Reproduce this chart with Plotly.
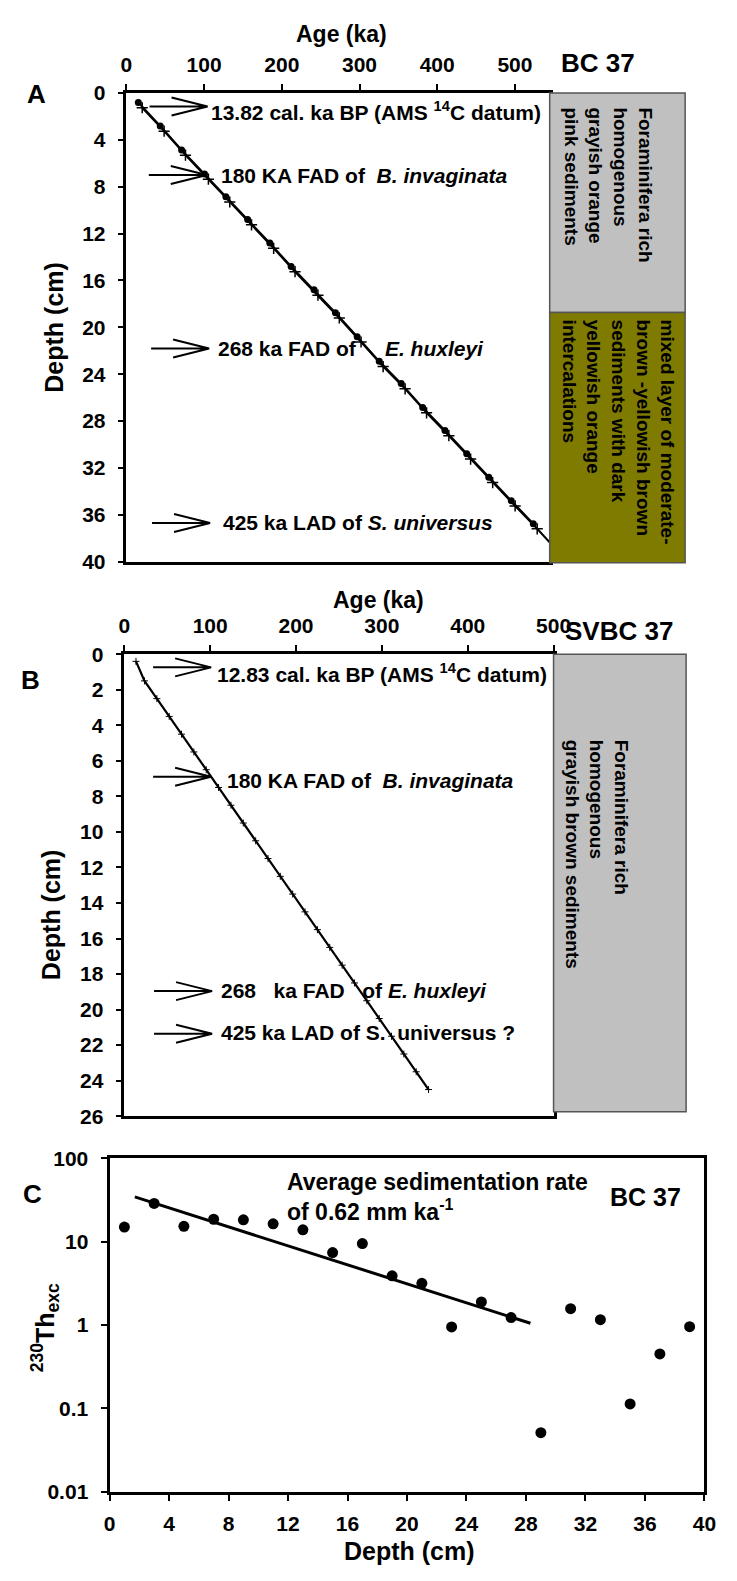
import plotly.graph_objects as go

W, H = 737, 1581
FONT = "Liberation Sans, Arial, sans-serif"


def px(x):
    return x / W


def py(y):
    return 1 - y / H


# ---------------- Panel A (BC 37) ----------------
a_circle_depth = [0.8, 2.8, 4.85, 6.9, 8.86, 10.8, 12.8, 14.8, 16.8, 18.75,
                  20.8, 22.9, 24.8, 26.85, 28.8, 30.8, 32.8, 34.8, 36.76]
a_circle_age = [15.3, 43.5, 71, 100.5, 128, 156, 184.5, 212, 241.5, 269,
                297, 325.4, 353.7, 381.3, 410, 438, 466.4, 495.3, 523.7]
a_cross_depth = [1.25, 3.25, 5.3, 7.35, 9.3, 11.25, 13.25, 15.25, 17.25, 19.2,
                 21.25, 23.35, 25.25, 27.3, 29.25, 31.25, 33.25, 35.25, 37.2, 39.25]
a_cross_age = [20.3, 48.5, 76, 105.5, 133, 161, 189.5, 217, 246.5, 274,
               302, 330.4, 358.7, 386.3, 415, 443, 471.4, 500.3, 528.7, 557]

a_arrow_age = [104.4, 103.4, 106.4, 107.6]
a_arrow_depth = [1.15, 7.0, 21.8, 36.7]
a_text_age = [106.5, 118.9, 115.2, 121.4]
a_text_depth = [1.5, 7.05, 21.8, 36.65]
a_texts = ["13.82 cal. ka BP (AMS <sup>14</sup>C datum)",
           "180 KA FAD of \u00a0<i>B. invaginata</i>",
           "268 ka FAD of \u00a0\u00a0\u00a0\u00a0<i>E. huxleyi</i>",
           "425 ka LAD of <i>S. universus</i>"]

# ---------------- Panel B (SVBC 37) ----------------
b_depth = [0.4, 1.5, 2.5, 3.5, 4.5, 5.5, 6.5, 7.5, 8.5, 9.5, 10.5, 11.5, 12.5,
           13.5, 14.5, 15.5, 16.5, 17.5, 18.5, 19.5, 20.5, 21.5, 22.5, 23.5, 24.5]
b_age = [13.6, 23.5, 37.9, 52.3, 66.6, 81.0, 95.4, 109.8, 124.2, 138.6, 153.0,
         167.4, 181.7, 196.1, 210.5, 224.9, 239.3, 253.7, 268.1, 282.5, 296.9,
         311.2, 325.6, 340.0, 354.4]

b_arrow_age = [101.1, 101.1, 102.2, 102.2]
b_arrow_depth = [0.74, 6.9, 18.96, 21.36]
b_text_age = [105.6, 116.9, 110.1, 110.1]
b_text_depth = [1.07, 7.12, 18.93, 21.31]
b_texts = ["12.83 cal. ka BP (AMS <sup>14</sup>C datum)",
           "180 KA FAD of \u00a0<i>B. invaginata</i>",
           "268 \u00a0\u00a0ka FAD \u00a0\u00a0of <i>E. huxleyi</i>",
           "425 ka LAD of S. \u00a0universus ?"]

# ---------------- Panel C (230Th excess) ----------------
c_depth = [1, 3, 5, 7, 9, 11, 13, 15, 17, 19, 21, 23, 25, 27, 29, 31, 33, 35, 37, 39]
c_th = [15.0, 28.8, 15.3, 18.6, 18.3, 16.4, 13.9, 7.4, 9.5, 3.9, 3.17, 0.95,
        1.89, 1.23, 0.051, 1.57, 1.16, 0.113, 0.45, 0.955]
c_trend_depth = [1.7, 28.3]
c_trend_th = [34.5, 1.05]

fig = go.Figure()

# Panel A traces
fig.add_trace(go.Scatter(x=a_cross_age, y=a_cross_depth, mode="lines+markers",
                         line=dict(color="black", width=2),
                         marker=dict(symbol="cross-thin", size=8, line=dict(color="black", width=1.5)),
                         xaxis="x", yaxis="y", showlegend=False))
fig.add_trace(go.Scatter(x=a_circle_age, y=a_circle_depth, mode="lines+markers",
                         line=dict(color="black", width=2),
                         marker=dict(symbol="circle", size=7, color="black"),
                         xaxis="x", yaxis="y", showlegend=False))
# Panel B trace
fig.add_trace(go.Scatter(x=b_age, y=b_depth, mode="lines+markers",
                         line=dict(color="black", width=2.2),
                         marker=dict(symbol="cross-thin", size=5, line=dict(color="black", width=1)),
                         xaxis="x2", yaxis="y2", showlegend=False))
# Panel C traces
fig.add_trace(go.Scatter(x=c_trend_depth, y=c_trend_th, mode="lines",
                         line=dict(color="black", width=3),
                         xaxis="x3", yaxis="y3", showlegend=False))
fig.add_trace(go.Scatter(x=c_depth, y=c_th, mode="markers",
                         marker=dict(symbol="circle", size=11, color="black"),
                         xaxis="x3", yaxis="y3", showlegend=False))

tickfont = dict(family=FONT, size=21, color="black", weight="bold")
common = dict(showgrid=False, zeroline=False, showline=True, linecolor="black",
              mirror=True, ticks="outside", ticklen=6, tickwidth=2, tickcolor="black",
              tickfont=tickfont)

fig.update_layout(
    width=W, height=H, margin=dict(l=0, r=0, t=0, b=0, pad=0),
    paper_bgcolor="white", plot_bgcolor="white",
    font=dict(family=FONT, color="black"),
    xaxis=dict(domain=[px(124.5), px(562)], range=[0, 544.8], side="top", anchor="y",
               tickvals=[0, 100, 200, 300, 400, 500], linewidth=2.5, ticklabelstandoff=4, **common),
    yaxis=dict(domain=[py(557.7), py(82.3)], range=[40, 0], anchor="x",
               tickvals=list(range(0, 41, 4)), linewidth=2.5, ticklabelstandoff=8, **common),
    xaxis2=dict(domain=[px(122.3), px(566)], range=[0, 500], side="top", anchor="y2",
                tickvals=[0, 100, 200, 300, 400, 500], linewidth=2.5, ticklabelstandoff=4, **common),
    yaxis2=dict(domain=[py(1120.5), py(651.7)], range=[26, 0], anchor="x2",
                tickvals=list(range(0, 27, 2)), linewidth=2.5, ticklabelstandoff=8, **common),
    xaxis3=dict(domain=[px(107), px(722)], range=[0, 40], side="bottom", anchor="y3",
                tickvals=list(range(0, 41, 4)), linewidth=3, ticklabelstandoff=5, **common),
    yaxis3=dict(domain=[py(1501.5), py(1163.3)], type="log", range=[-2, 2], anchor="x3",
                tickvals=[0.01, 0.1, 1, 10, 100], ticktext=["0.01", "0.1", "1", "10", "100"],
                linewidth=3, ticklabelstandoff=8, **common),
)

shapes = []
annotations = []

# Lithology boxes
shapes.append(dict(type="rect", xref="paper", yref="paper", x0=px(562), x1=px(702),
                   y0=py(305), y1=py(82.3), fillcolor="#c0c0c0",
                   line=dict(color="#555555", width=1.5), layer="above"))
shapes.append(dict(type="rect", xref="paper", yref="paper", x0=px(562), x1=px(702),
                   y0=py(559), y1=py(305), fillcolor="#7f7a00",
                   line=dict(color="#555555", width=1.5), layer="above"))
shapes.append(dict(type="rect", xref="paper", yref="paper", x0=px(566), x1=px(703),
                   y0=py(1116), y1=py(651.7), fillcolor="#c0c0c0",
                   line=dict(color="#555555", width=1.5), layer="above"))

boxfont = dict(family=FONT, size=19, color="black", weight="bold")
annotations.append(dict(xref="paper", yref="paper", x=px(623), y=py(95), xanchor="center",
                        yanchor="top", textangle=90, align="left", showarrow=False, font=boxfont,
                        text="Foraminifera rich<br>homogenous<br>grayish orange<br>pink sediments"))
annotations.append(dict(xref="paper", yref="paper", x=px(633), y=py(310), xanchor="center",
                        yanchor="top", textangle=90, align="left", showarrow=False, font=boxfont,
                        text="mixed layer of moderate-<br>brown -yellowish brown<br>sediments with dark<br>yellowish orange<br>intercalations"))
annotations.append(dict(xref="paper", yref="paper", x=px(611), y=py(736), xanchor="center",
                        yanchor="top", textangle=90, align="left", showarrow=False, font=boxfont,
                        text="Foraminifera rich<br>homogenous<br>grayish brown sediments"))

# Arrows (open chevron heads)
arrow_path = "M -58,0 L 0,0 M -36,9 L 0,0 L -36,-9"
for xa, ya, ages, depths in [("x", "y", a_arrow_age, a_arrow_depth),
                             ("x2", "y2", b_arrow_age, b_arrow_depth)]:
    for ag, dp in zip(ages, depths):
        shapes.append(dict(type="path", xref=xa, yref=ya, xsizemode="pixel", ysizemode="pixel",
                           xanchor=ag, yanchor=dp, path=arrow_path,
                           line=dict(color="black", width=2), layer="above"))

annfont = dict(family=FONT, size=21, color="black", weight="bold")
for xa, ya, ages, depths, texts in [("x", "y", a_text_age, a_text_depth, a_texts),
                                    ("x2", "y2", b_text_age, b_text_depth, b_texts)]:
    for ag, dp, t in zip(ages, depths, texts):
        annotations.append(dict(xref=xa, yref=ya, x=ag, y=dp, xanchor="left", yanchor="middle",
                                text=t, showarrow=False, font=annfont))

agefont = dict(family=FONT, size=23, color="black", weight="bold")
depthfont = dict(family=FONT, size=25, color="black", weight="bold")
labfont = dict(family=FONT, size=26, color="black", weight="bold")
bcfont = dict(family=FONT, size=26, color="black", weight="bold")
cfont = dict(family=FONT, size=23, color="black", weight="bold")


def pann(x, y, text, font, xanchor="center", yanchor="middle", angle=0):
    annotations.append(dict(xref="paper", yref="paper", x=px(x), y=py(y), text=text,
                            xanchor=xanchor, yanchor=yanchor, textangle=angle,
                            showarrow=False, font=font))


# Panel A labels
pann(347, 22, "Age (ka)", agefont)
pann(572, 52, "BC 37", bcfont, xanchor="left")
pann(32, 83, "A", labfont)
pann(50, 320, "Depth (cm)", depthfont, angle=-90)
# Panel B labels
pann(385, 597, "Age (ka)", agefont)
pann(576, 628, "SVBC 37", bcfont, xanchor="left")
pann(25, 678, "B", labfont)
pann(46, 916, "Depth (cm)", depthfont, angle=-90)
# Panel C labels
pann(27, 1199, "C", labfont)
pann(288, 1187, "Average sedimentation rate", cfont, xanchor="left")
pann(288, 1216, "of 0.62 mm ka<sup>-1</sup>", cfont, xanchor="left")
pann(661, 1203, "BC 37", dict(family=FONT, size=25, color="black", weight="bold"))
pann(417, 1562, "Depth (cm)", depthfont)
pann(40, 1335, "<sup>230</sup>Th<sub>exc</sub>", depthfont, angle=-90)

fig.update_layout(shapes=shapes, annotations=annotations)
fig.write_html("out.html",
               post_script="document.body.style.margin='0';document.body.style.padding='0';")
